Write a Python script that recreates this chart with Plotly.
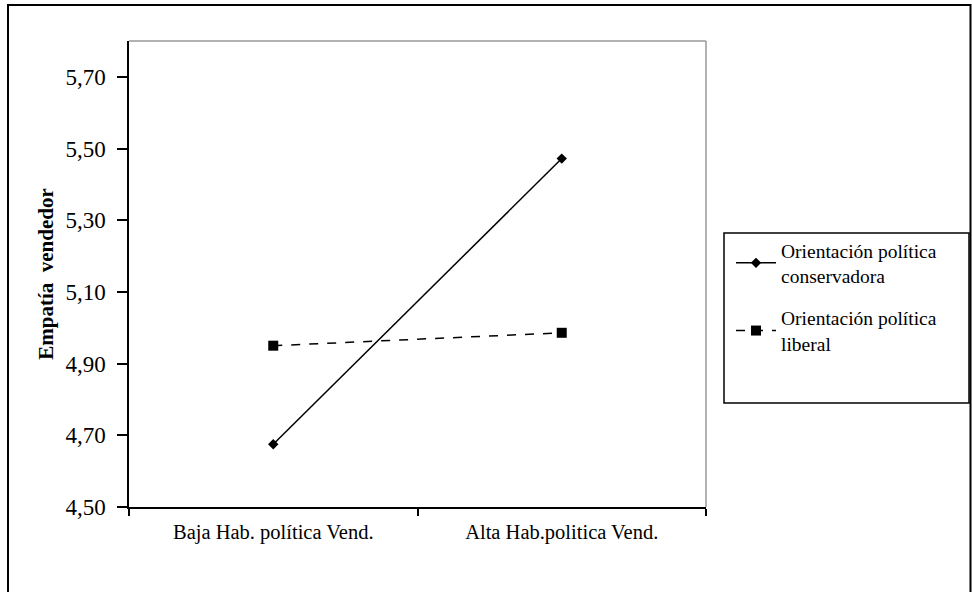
import plotly.graph_objects as go

categories = ["Baja Hab. política Vend.", "Alta Hab.politica Vend."]
conservadora = [4.675, 5.472]
liberal = [4.950, 4.986]
series_names = ["Orientación política<br>conservadora", "Orientación política<br>liberal"]
y_ticks = [4.50, 4.70, 4.90, 5.10, 5.30, 5.50, 5.70]

W, H = 972, 592
L, R, T, B = 129, 706, 41, 507
pw, ph = R - L, B - T

def px_x(x):
    return (x - L) / pw

def px_y(y):
    return 1 - (y - T) / ph

font = "Liberation Serif, Times New Roman, serif"

fig = go.Figure()
fig.add_trace(go.Scatter(
    x=categories, y=conservadora, name=series_names[0], mode="lines+markers",
    line=dict(color="black", width=1.5),
    marker=dict(symbol="diamond", size=8, color="black"),
    legendgroup="a",
))
fig.add_trace(go.Scatter(
    x=categories, y=liberal, name=series_names[1], mode="lines+markers",
    line=dict(color="black", width=1.5, dash="dash"),
    marker=dict(symbol="square", size=10, color="black"),
    legendgroup="b",
))

fig.update_layout(
    width=W, height=H,
    margin=dict(l=L, r=W - R, t=T, b=H - B),
    plot_bgcolor="white", paper_bgcolor="white",
    separators=", ",
    font=dict(family=font, size=20, color="black"),
    showlegend=True,
    legend=dict(
        x=px_x(731), y=px_y(231), xanchor="left", yanchor="top",
        bgcolor="rgba(0,0,0,0)", borderwidth=0,
        font=dict(family=font, size=19.5, color="black"),
        traceorder="grouped", tracegroupgap=14, itemwidth=40,
    ),
    xaxis=dict(
        type="category", range=[-0.5, 1.5], tickson="boundaries",
        ticks="outside", ticklen=7, tickcolor="black", tickwidth=1.5,
        showline=True, linecolor="black", linewidth=1.5,
        showgrid=False, zeroline=False, ticklabelstandoff=6,
        tickfont=dict(family=font, size=20.5, color="black"),
    ),
    yaxis=dict(
        range=[4.5, 5.8], tickvals=y_ticks, tickformat=".2f",
        ticks="outside", ticklen=10, tickcolor="black", tickwidth=1.5,
        showline=True, linecolor="black", linewidth=1.5,
        showgrid=False, zeroline=False, ticklabelstandoff=7,
        tickfont=dict(family=font, size=23, color="black"),
        title=dict(text="<b>Empatía  vendedor</b>", standoff=6,
                   font=dict(family=font, size=21, color="black")),
    ),
    shapes=[
        dict(type="line", xref="paper", yref="paper", x0=0, x1=1, y0=1, y1=1,
             line=dict(color="#999999", width=1.5)),
        dict(type="line", xref="paper", yref="paper", x0=1, x1=1, y0=0, y1=1,
             line=dict(color="#999999", width=1.5)),
        dict(type="rect", xref="paper", yref="paper",
             x0=px_x(8), x1=px_x(970.5), y0=px_y(610), y1=px_y(5),
             line=dict(color="black", width=2)),
        dict(type="rect", xref="paper", yref="paper",
             x0=px_x(724), x1=px_x(969), y0=px_y(403), y1=px_y(233),
             line=dict(color="black", width=1.5)),
    ],
)

fig.write_html("out.html", config={"displayModeBar": False},
               post_script="document.body.style.margin='0';document.body.style.overflow='hidden';")
